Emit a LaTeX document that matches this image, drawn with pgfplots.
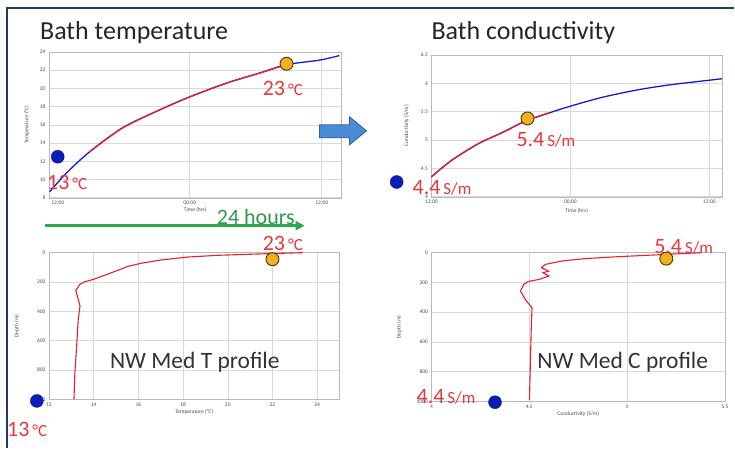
\documentclass[border=0pt]{standalone}
\usepackage{fontspec}
\setmainfont{Carlito}
\usepackage{pgfplots}
\pgfplotsset{compat=1.18}
\usetikzlibrary{arrows.meta}

\definecolor{framecol}{HTML}{1F3A5F}
\definecolor{curvered}{HTML}{E8202A}
\definecolor{curveblue}{HTML}{1818D8}
\definecolor{dotblue}{HTML}{0B1DB8}
\definecolor{dotorange}{HTML}{F2B01E}
\definecolor{labred}{HTML}{E8383D}
\definecolor{arrowgreen}{HTML}{2EAA4A}
\definecolor{textgreen}{HTML}{2F9A4C}
\definecolor{blockfill}{HTML}{4A8CD6}
\definecolor{blockdraw}{HTML}{2F5F9A}

\newcommand{\tickfont}{\fontsize{5.5}{6}\selectfont}
\newcommand{\lab}[2]{{\fontsize{22}{24}\selectfont #1}\hspace{3pt}{\fontsize{17}{19}\selectfont #2}}

\pgfplotsset{
  panel/.style={
    scale only axis, clip=false,
    axis line style={gray!55}, grid=major,
    grid style={gray!30, line width=0.5pt},
    tick style={draw=none},
    ticklabel style={font=\tickfont, text=gray!60!black},
    label style={font=\tickfont, text=gray!60!black},
    /pgf/number format/assume math mode=true,
    /pgf/number format/1000 sep={},
  },
  bluedot/.style={only marks, mark=*, mark size=6.5pt, mark options={fill=dotblue, draw=dotblue!70!black}},
  orangedot/.style={only marks, mark=*, mark size=6.5pt, mark options={fill=dotorange, draw=black!70!dotorange, line width=0.9pt}},
}

\begin{document}
\begin{tikzpicture}
\fill[white] (0pt,0pt) rectangle (735pt,449pt);
% slide frame
\draw[framecol, line width=2pt] (7pt,0pt) -- (7pt,441pt) -- (735pt,441pt);

% Bath temperature
\begin{axis}[panel, at={(49pt,251pt)}, anchor=south west, width=293pt, height=146pt,
  xmin=-0.8, xmax=25.8, ymin=8, ymax=24,
  xtick={12,24}, xticklabels={00:00,12:00},
  extra x ticks={0}, extra x tick labels={12:00}, extra x tick style={grid=none},
  ytick={8,10,...,24},
  xlabel={Time (hrs)}, ylabel={Temperature (°C)},
  x label style={at={(axis description cs:0.5,0)}, anchor=north, yshift=-6pt},
  y label style={at={(axis description cs:-0.055,0.5)}, anchor=south}]
\addplot[curveblue, line width=1.3pt, smooth] coordinates {
(-0.73,8.66) (0.82,10.74) (2.9,13.04) (5.9,15.67) (9.27,17.64) (12,19.07)
(15.4,20.6) (18.4,21.7) (20.8,22.6) (23.8,23.1) (25.6,23.6)};
\addplot[curvered, line width=1.3pt, smooth] coordinates {
(2.9,13.04) (5.9,15.67) (9.27,17.64) (12,19.07) (15.4,20.6) (18.4,21.7) (20.8,22.6)};
\addplot[bluedot] coordinates {(0,12.5)};
\addplot[orangedot] coordinates {(20.8,22.7)};
\end{axis}

% Bath conductivity
\begin{axis}[panel, at={(432pt,252pt)}, anchor=south west, width=291pt, height=142pt,
  xmin=0, xmax=25.1, ymin=4, ymax=6.5,
  xtick={0,12,24}, xticklabels={12:00,00:00,12:00},
  ytick={4,4.5,5,5.5,6,6.5},
  xlabel={Time (hrs)}, ylabel={Conductivity (S/m)},
  x label style={at={(axis description cs:0.5,0)}, anchor=north, yshift=-8pt},
  y label style={at={(axis description cs:-0.065,0.5)}, anchor=south}]
\addplot[curveblue, line width=1.3pt, smooth] coordinates {
(0,4.35) (1.8,4.65) (4.1,4.94) (6.1,5.13) (8.2,5.34) (10.2,5.48) (11.9,5.59)
(14.7,5.75) (17.7,5.88) (20.5,5.97) (23.4,6.04) (25.1,6.08)};
\addplot[curvered, line width=1.3pt, smooth] coordinates {
(0,4.35) (1.8,4.65) (4.1,4.94) (6.1,5.13) (8.2,5.34) (10.2,5.48)};
\addplot[bluedot] coordinates {(-3.0,4.26)};
\addplot[orangedot] coordinates {(8.3,5.38)};
\end{axis}

% T profile
\begin{axis}[panel, at={(49pt,49pt)}, anchor=south west, width=291pt, height=147pt,
  xmin=12, xmax=25, ymin=0, ymax=1000, y dir=reverse,
  xtick={12,14,...,24}, ytick={0,200,...,1000},
  xlabel={Temperature (°C)}, ylabel={Depth (m)},
  x label style={at={(axis description cs:0.5,0)}, anchor=north, yshift=-7pt},
  y label style={at={(axis description cs:-0.09,0.5)}, anchor=south}]
\addplot[curvered, line width=1.1pt] coordinates {
(23.36,0) (21.79,7) (19.55,18) (18.2,30) (17.0,50) (16.1,73) (15.5,95)
(15.0,125) (14.6,148) (14.3,164) (14.0,182) (13.6,198) (13.39,216)
(13.2,257) (13.27,295) (13.39,364) (13.31,455) (13.24,636) (13.16,818) (13.12,1000)};
\addplot[orangedot] coordinates {(22.0,45)};
\addplot[bluedot] coordinates {(11.46,1010)};
\end{axis}

% C profile
\begin{axis}[panel, at={(432pt,47pt)}, anchor=south west, width=294pt, height=149pt,
  xmin=4, xmax=5.5, ymin=0, ymax=1000, y dir=reverse,
  xtick={4,4.5,5,5.5}, ytick={0,200,...,1000},
  xlabel={Conductivity (S/m)}, ylabel={Depth (m)},
  x label style={at={(axis description cs:0.5,0)}, anchor=north, yshift=-7pt},
  y label style={at={(axis description cs:-0.09,0.5)}, anchor=south}]
\addplot[curvered, line width=1.1pt] coordinates {
(5.377,0) (5.21,11) (4.954,27) (4.785,40) (4.667,56) (4.582,79) (4.562,101)
(4.599,124) (4.57,135) (4.6,157) (4.55,180) (4.497,193) (4.472,213)
(4.455,258) (4.48,315) (4.514,371) (4.51,517) (4.506,719) (4.501,989)};
\addplot[orangedot] coordinates {(5.2,40)};
\addplot[bluedot] coordinates {(4.325,1005)};
\end{axis}

% titles and annotations
\node[anchor=west, inner sep=0, text=black!85] at (40pt,416pt) {\fontsize{26}{28}\selectfont Bath temperature};
\node[anchor=west, inner sep=0, text=black!85] at (432pt,416pt) {\fontsize{26}{28}\selectfont Bath conductivity};
\node[anchor=west, inner sep=0, text=labred] at (263pt,360pt) {\lab{23}{°C}};
\node[anchor=west, inner sep=0, text=labred] at (47pt,266pt) {\lab{13}{°C}};
\node[anchor=west, inner sep=0, text=labred] at (517pt,309pt) {\lab{5.4}{S/m}};
\node[anchor=west, inner sep=0, text=labred] at (413pt,261pt) {\lab{4.4}{S/m}};
\node[anchor=west, inner sep=0, text=labred] at (263pt,205pt) {\lab{23}{°C}};
\node[anchor=west, inner sep=0, text=labred] at (7pt,19pt) {\lab{13}{°C}};
\node[anchor=west, inner sep=0, text=labred] at (655pt,202pt) {\lab{5.4}{S/m}};
\node[anchor=west, inner sep=0, text=labred] at (417pt,52pt) {\lab{4.4}{S/m}};
\node[anchor=west, inner sep=0, text=black!80] at (110pt,86pt) {\fontsize{23.5}{25}\selectfont NW Med T profile};
\node[anchor=west, inner sep=0, text=black!80] at (538pt,86pt) {\fontsize{23.5}{25}\selectfont NW Med C profile};

% 24 hours arrow
\draw[arrowgreen, line width=3pt, -{Triangle[length=9pt, width=9pt]}] (45pt,223pt) -- (305pt,223pt);
\node[anchor=west, inner sep=0, text=textgreen] at (217pt,232pt) {\fontsize{22}{24}\selectfont 24 hours};

% block arrow between panels
\draw[blockdraw, fill=blockfill, line width=0.8pt]
  (320pt,324pt) -- (350pt,324pt) -- (350pt,332pt) -- (367pt,318pt) -- (350pt,304pt) -- (350pt,311pt) -- (320pt,311pt) -- cycle;
\end{tikzpicture}
\end{document}
